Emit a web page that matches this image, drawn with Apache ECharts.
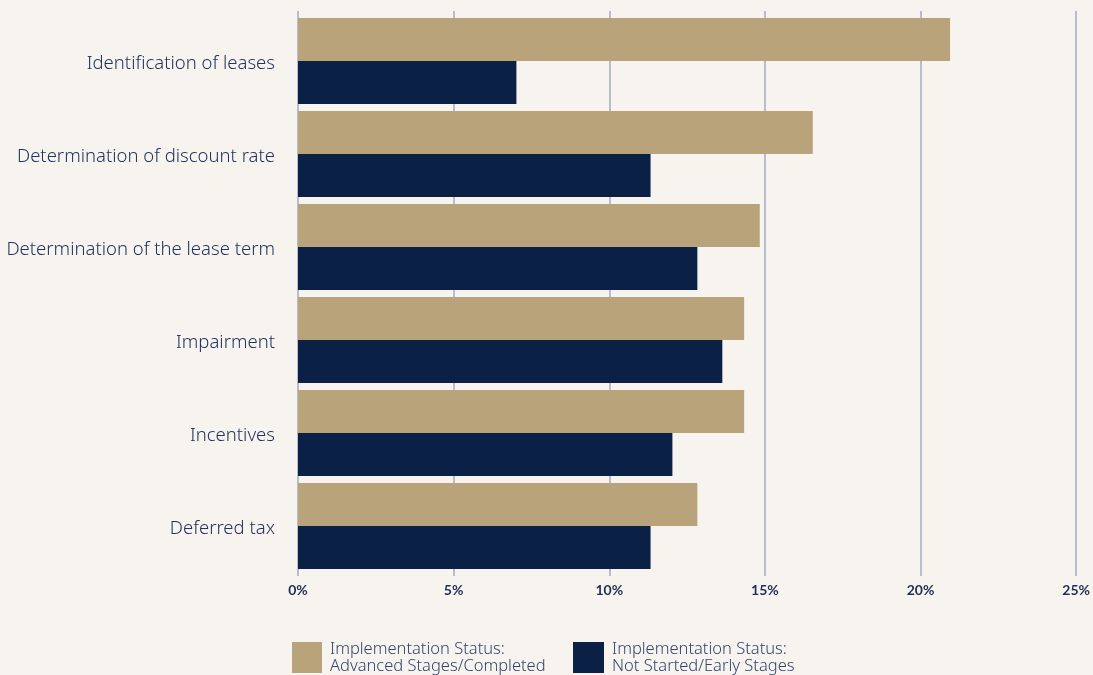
<!DOCTYPE html>
<html>
<head>
<meta charset="utf-8">
<script src="https://cdn.jsdelivr.net/npm/echarts@6/dist/echarts.min.js"></script>
<style>
  html, body { margin: 0; padding: 0; background: #f7f4ef; }
  #chart { width: 1093px; height: 675px; }
</style>
</head>
<body>
<div id="chart"></div>
<script>
// Lease accounting topics and share of respondents (%) per implementation status
const categories = [
  'Identification of leases',
  'Determination of discount rate',
  'Determination of the lease term',
  'Impairment',
  'Incentives',
  'Deferred tax'
];
const advancedValues = [20.9, 16.5, 14.8, 14.3, 14.3, 12.8];
const earlyValues = [7.0, 11.3, 12.8, 13.6, 12.0, 11.3];
const seriesNames = [
  'Implementation Status:\nAdvanced Stages/Completed',
  'Implementation Status:\nNot Started/Early Stages'
];
const xTicks = { min: 0, max: 25, interval: 5 };

const GOLD = '#b8a37a';
const NAVY = '#0a2145';
const LINE = '#a3aac2';
const TEXT = '#1f2f55';
const BODY_FONT = '"Noto Sans", "Open Sans", sans-serif';

const chart = echarts.init(document.getElementById('chart'), null, { renderer: 'canvas' });

const legendText = {
  color: '#34446a',
  fontFamily: BODY_FONT,
  fontWeight: 300,
  fontSize: 16.5,
  lineHeight: 17,
  padding: [1, 0, 0, 3]
};

chart.setOption({
  backgroundColor: '#f7f4ef',
  animation: false,
  grid: [
    // grid carrying the vertical gridlines and percentage labels
    { left: 298, right: 15, top: 11, bottom: 99 },
    // grid carrying the bars
    { left: 298, right: 15, top: 14.5, height: 558 }
  ],
  xAxis: [
    {
      gridIndex: 0,
      type: 'value',
      min: xTicks.min, max: xTicks.max, interval: xTicks.interval,
      axisLine: { show: false },
      axisTick: { show: false },
      splitLine: { show: true, lineStyle: { color: LINE, width: 1.5 } },
      axisLabel: {
        formatter: v => v + '%',
        color: TEXT,
        fontFamily: 'Lato, "Noto Sans", sans-serif',
        fontWeight: 'bold',
        fontSize: 14,
        margin: 7
      }
    },
    {
      gridIndex: 1,
      type: 'value',
      min: xTicks.min, max: xTicks.max, interval: xTicks.interval,
      show: false
    }
  ],
  yAxis: [
    {
      gridIndex: 0,
      type: 'category',
      data: categories,
      show: false
    },
    {
      gridIndex: 1,
      type: 'category',
      data: categories,
      inverse: true,
      axisLine: { show: false },
      axisTick: { show: false },
      axisLabel: {
        margin: 23,
        align: 'right',
        formatter: v => '{c|' + v + '}',
        rich: {
          c: {
            color: '#23345c',
            fontFamily: BODY_FONT,
            fontWeight: 300,
            fontSize: 18.5,
            padding: [6, 0, 0, 0]
          }
        }
      }
    }
  ],
  legend: [
    {
      left: 292, top: 640,
      padding: 0,
      itemWidth: 30, itemHeight: 31,
      icon: 'rect',
      data: [seriesNames[0]],
      textStyle: legendText
    },
    {
      left: 573, top: 640,
      padding: 0,
      itemWidth: 31, itemHeight: 31,
      icon: 'rect',
      data: [seriesNames[1]],
      textStyle: legendText
    }
  ],
  series: [
    {
      name: seriesNames[0],
      type: 'bar',
      xAxisIndex: 1, yAxisIndex: 1,
      data: advancedValues,
      itemStyle: { color: GOLD },
      barGap: '0%',
      barCategoryGap: '7.5%'
    },
    {
      name: seriesNames[1],
      type: 'bar',
      xAxisIndex: 1, yAxisIndex: 1,
      data: earlyValues,
      itemStyle: { color: NAVY },
      barGap: '0%',
      barCategoryGap: '7.5%'
    }
  ]
});
</script>
</body>
</html>
